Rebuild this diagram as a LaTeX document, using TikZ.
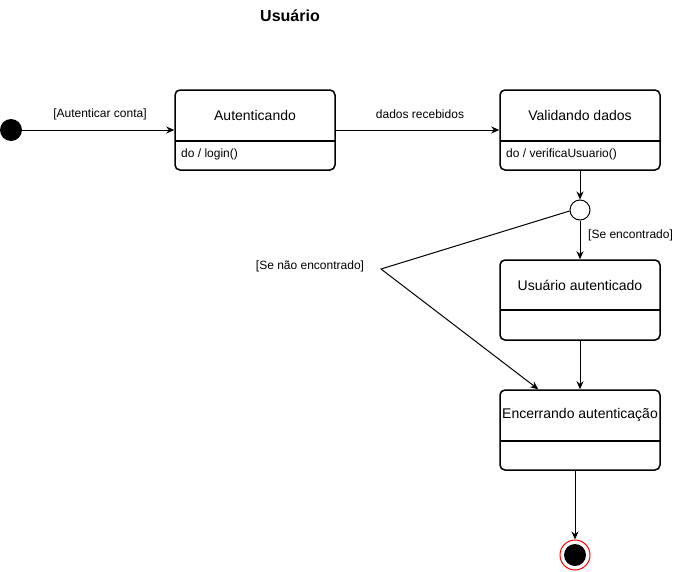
\documentclass[tikz,border=0pt]{standalone}
\usepackage{fontspec}
\setmainfont{Liberation Sans}
\usetikzlibrary{arrows.meta}
\begin{document}
\begin{tikzpicture}[x=1pt,y=-1pt,
  statebox/.style={draw, line width=1.5pt, rounded corners=5pt, minimum width=160pt, minimum height=80pt, inner sep=0pt, fill=white},
  divline/.style={line width=1.5pt},
  titletxt/.style={font=\fontsize{14}{16}\selectfont, inner sep=0pt},
  smalltxt/.style={font=\fontsize{12}{14}\selectfont, inner sep=0pt},
  conn/.style={line width=1pt, -{Stealth[length=8pt,width=7pt]}},
  plainconn/.style={line width=1pt}]
\useasboundingbox (0,0) rectangle (691,571);
\node[font=\bfseries\fontsize{16}{18}\selectfont] (title) at (290,16) {Usuário};
% initial
\node[circle, fill=black, minimum size=22pt, inner sep=0pt] (init) at (11,130) {};
% states
\node[statebox] (aut) at (255,130) {};
\draw[divline] (175,141) -- (335,141);
\node[titletxt] (autT) at (255,115) {Autenticando};
\node[smalltxt, anchor=west] (autD) at (181,154) {do / login()};

\node[statebox] (val) at (580,130) {};
\draw[divline] (500,141) -- (660,141);
\node[titletxt] (valT) at (580,115) {Validando dados};
\node[smalltxt, anchor=west] (valD) at (506,154) {do / verificaUsuario()};

\node[circle, draw, line width=1pt, fill=white, minimum size=20pt, inner sep=0pt] (dec) at (580,210) {};

\node[statebox] (ua) at (580,300) {};
\draw[divline] (500,310) -- (660,310);
\node[titletxt] (uaT) at (580,285) {Usuário autenticado};

\node[statebox] (enc) at (580,430) {};
\draw[divline] (500,441) -- (660,441);
\node[titletxt] (encT) at (580,415) {Encerrando autenticação};

% final
\node[circle, draw=red, line width=1pt, fill=white, minimum size=30pt, inner sep=0pt] (fin) at (575,555) {};
\node[circle, fill=black, minimum size=22pt, inner sep=0pt] (finIn) at (575,555) {};

% connectors
\draw[conn] (init) -- (aut.west);
\node[smalltxt] (l1) at (100,114) {[Autenticar conta]};
\draw[conn] (aut.east) -- (val.west);
\node[smalltxt] (l2) at (420,114) {dados recebidos};
\draw[conn] (val.south) -- (dec.north);
\draw[conn] (dec.south) -- (ua.north);
\node[smalltxt, anchor=west] (l3) at (588,235) {[Se encontrado]};
\coordinate (bend) at (381,269);
\coordinate (encIn) at ([xshift=39pt]enc.north west);
\draw[conn] (dec.west) ++(0,1) -- (bend) -- (encIn);
\node[smalltxt] (l4) at (310,266) {[Se não encontrado]};
\draw[conn] (ua.south) -- (enc.north);
\draw[conn] ([xshift=-5pt]enc.south) -- (fin.north);
\end{tikzpicture}
\end{document}
